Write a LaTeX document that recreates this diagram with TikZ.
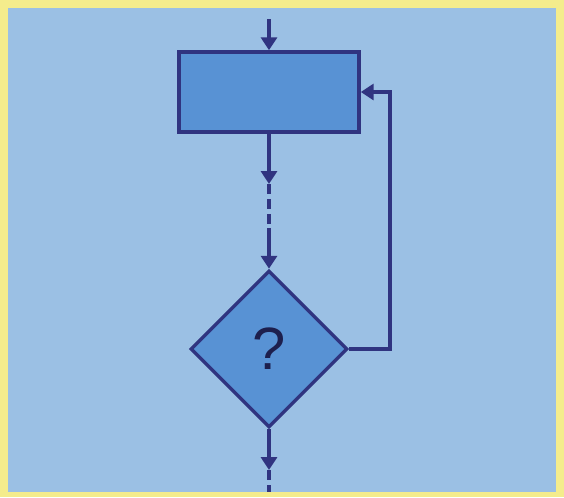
\documentclass[tikz,border=0pt]{standalone}
\usepackage{fontspec}
\setmainfont{Liberation Sans}
\usetikzlibrary{shapes.geometric,arrows.meta,positioning}
\definecolor{frame}{RGB}{244,236,140}
\definecolor{paper}{RGB}{155,192,228}
\definecolor{boxfill}{RGB}{88,146,212}
\definecolor{ink}{RGB}{48,52,128}

\tikzset{
  procbox/.style={draw=ink,fill=boxfill,line width=0.07cm,minimum width=3.6cm,minimum height=1.6cm,inner sep=0pt},
  decision/.style={diamond,aspect=1,draw=ink,fill=boxfill,line width=0.07cm,minimum size=3.14cm,inner sep=0pt,font=\fontsize{34}{40}\selectfont,text=ink!60!black},
  flow/.style={draw=ink,line width=0.07cm,-{Triangle[length=0.26cm,width=0.32cm]}},
  elide/.style={draw=ink,line width=0.07cm,dash pattern=on 0.2cm off 0.1cm}
}

\begin{document}
\begin{tikzpicture}[x=0.02cm,y=-0.02cm]
% frame and paper
\fill[frame] (0,0) rectangle (564,497);
\fill[paper] (8,8) rectangle (556,492);
\useasboundingbox (0,0) rectangle (564,497);

\coordinate (in) at (269,19);
\node[procbox] (proc) at (269,92) {};
\node[decision] (dec) at (269,349) {?};
\coordinate (gap1) at (269,184);
\coordinate (gap2) at (269,228);
\coordinate (out) at (269,470);
\coordinate (end) at (269,492);

\draw[flow] (in) -- (proc.north);
\draw[flow] (proc.south) -- (gap1);
\draw[elide] (gap1) -- (gap2);
\draw[flow] (gap2) -- (dec.north);
\draw[flow] (dec.south) -- (out);
\draw[elide] (out) -- (end);
% back to the box
\draw[flow] (dec.east) -- ++(41,0) |- (proc.east);
\end{tikzpicture}
\end{document}
